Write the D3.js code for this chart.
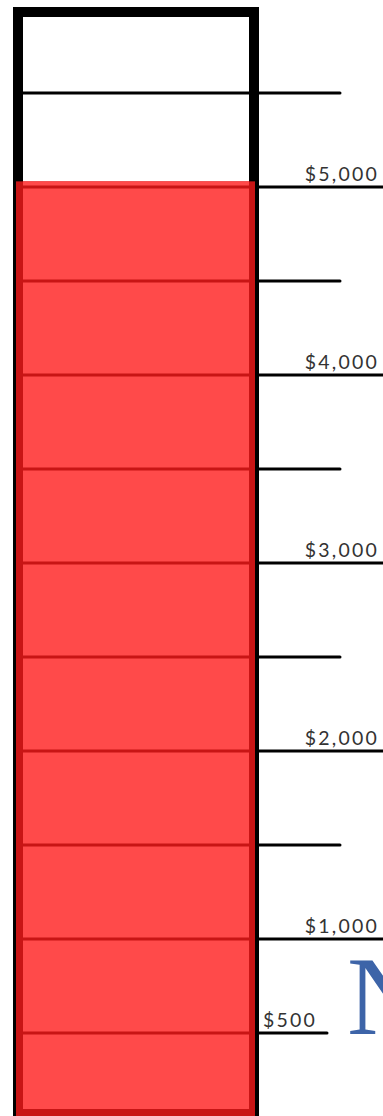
<!DOCTYPE html>
<html>
<head>
<meta charset="utf-8">
<script src="https://cdn.jsdelivr.net/npm/d3@7"></script>
<style>
  html, body { margin: 0; padding: 0; background: #fff; overflow: hidden; }
  svg { display: block; }
</style>
</head>
<body>
<div id="chart"></div>
<script>
// fundraising thermometer

const tickValues = [500, 1000, 1500, 2000, 2500, 3000, 3500, 4000, 4500, 5000, 5500];
const tickLabels = ["$500", "$1,000", "", "$2,000", "", "$3,000", "", "$4,000", "", "$5,000", ""];
const raised = 5030;
const logoText = "N";

const width = 383, height = 1116;

// tube geometry
const tubeX0 = 13, tubeX1 = 259, frameW = 10, frameTop = 7;
const fillX0 = 16, fillX1 = 255, fillBorder = 7;

const svg = d3.select("#chart").append("svg")
  .attr("width", width)
  .attr("height", height)
  .attr("viewBox", `0 0 ${width} ${height}`);

const y = d3.scaleLinear().domain([0, 5500]).range([1127, 93]);

// black frame
svg.append("rect")
  .attr("x", tubeX0 + frameW / 2)
  .attr("y", frameTop + frameW / 2)
  .attr("width", tubeX1 - tubeX0 - frameW)
  .attr("height", height + 20)
  .attr("fill", "#fff")
  .attr("stroke", "#000")
  .attr("stroke-width", frameW);

// red fill
const fillTop = y(raised);
svg.append("rect")
  .attr("x", fillX0)
  .attr("y", fillTop)
  .attr("width", fillX1 - fillX0)
  .attr("height", height - fillTop)
  .attr("fill", "#c81515");

svg.append("rect")
  .attr("x", fillX0 + fillBorder)
  .attr("y", fillTop)
  .attr("width", fillX1 - fillX0 - 2 * fillBorder + 1)
  .attr("height", height - fillBorder - fillTop)
  .attr("fill", "#ff4a4a");

const ticks = tickValues.map((v, i) => ({ value: v, label: tickLabels[i] }));

// lines inside the tube
svg.append("g").selectAll("line")
  .data(ticks)
  .join("line")
  .attr("x1", tubeX0 + frameW)
  .attr("x2", tubeX1 - frameW)
  .attr("y1", d => y(d.value))
  .attr("y2", d => y(d.value))
  .attr("stroke", d => d.value <= raised ? "#c81515" : "#000")
  .attr("stroke-width", 3);

// tick marks outside
function tickEnd(d) {
  if (d.label && d.value >= 1000) return width;
  if (d.label) return 327;
  return 340;
}

svg.append("g").selectAll("line")
  .data(ticks)
  .join("line")
  .attr("x1", tubeX1 - 2)
  .attr("x2", tickEnd)
  .attr("y1", d => y(d.value))
  .attr("y2", d => y(d.value))
  .attr("stroke", "#000")
  .attr("stroke-width", 3)
  .attr("stroke-linecap", "round");

// labels
svg.append("g").selectAll("text")
  .data(ticks.filter(d => d.label))
  .join("text")
  .attr("x", d => d.value >= 1000 ? 379 : 263)
  .attr("y", d => y(d.value) - 6)
  .attr("text-anchor", d => d.value >= 1000 ? "end" : "start")
  .attr("font-family", "Lato, 'DejaVu Sans', sans-serif")
  .attr("font-size", 19.5)
  .attr("letter-spacing", 2.2)
  .attr("fill", "#333")
  .text(d => d.label);

// partial logo at the right edge
svg.append("text")
  .attr("x", 347)
  .attr("y", y(500) + 1)
  .attr("font-family", "'Liberation Serif', 'DejaVu Serif', serif")
  .attr("font-size", 112)
  .attr("fill", "#3d64a8")
  .text(logoText);
</script>
</body>
</html>
